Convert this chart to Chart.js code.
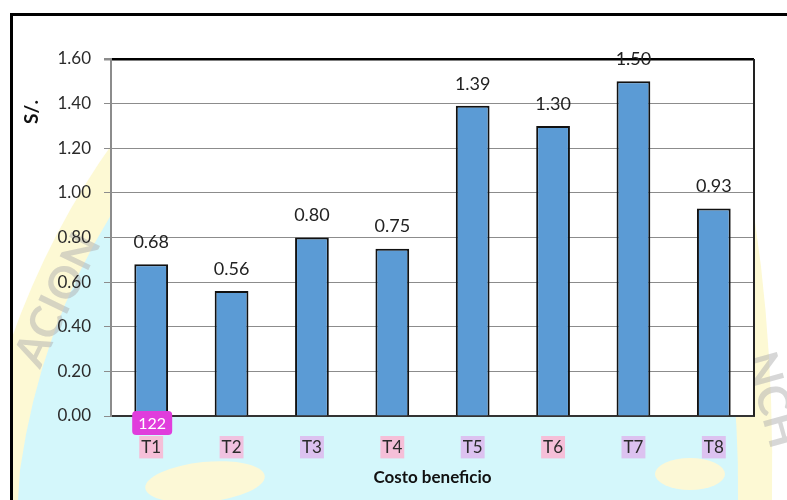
<!DOCTYPE html>
<html>
<head>
<meta charset="utf-8">
<script src="https://cdn.jsdelivr.net/npm/chart.js@4/dist/chart.umd.min.js"></script>
<style>
    body { margin: 0; background: #fff; }
    canvas { display: block; }
</style>
</head>
<body>
<canvas id="cbChart" width="787" height="500"></canvas>
<script>
// --- Data ---
const categories = ["T1", "T2", "T3", "T4", "T5", "T6", "T7", "T8"];
const costBenefit = [0.68, 0.56, 0.80, 0.75, 1.39, 1.30, 1.50, 0.93];
const yTicks = [0.00, 0.20, 0.40, 0.60, 0.80, 1.00, 1.20, 1.40, 1.60];

// highlight colours behind the category labels (style only)
const labelHighlight = ["#f5bfd8", "#f0c2e0", "#dcc2f0", "#f5bfd8", "#dcc2f0", "#f5bfd8", "#dcc2f0", "#dcc2f0"];

const FONT = "Lato, 'Open Sans', sans-serif";

// --- Background watermark + frame ---
const backdrop = {
    id: "backdrop",
    beforeDraw(chart) {
        const c = chart.ctx;
        const a = chart.chartArea;
        c.save();
        c.fillStyle = "#ffffff";
        c.fillRect(0, 0, chart.width, chart.height);

        // pale yellow ring
        c.fillStyle = "#fdf9d4";
        c.beginPath();
        c.moveTo(11, 500);
        c.lineTo(11, 340);
        c.quadraticCurveTo(50, 230, 115, 140);
        c.lineTo(740, 140);
        c.quadraticCurveTo(775, 300, 772, 500);
        c.closePath();
        c.fill();

        // light cyan inner area
        c.fillStyle = "#d4f7fb";
        c.beginPath();
        c.moveTo(18, 500);
        c.lineTo(20, 470);
        c.quadraticCurveTo(40, 330, 111, 215);
        c.lineTo(700, 215);
        c.quadraticCurveTo(740, 350, 738, 500);
        c.closePath();
        c.fill();

        // faint swirls in the lower band
        c.fillStyle = "#fcf8d6";
        c.beginPath();
        c.ellipse(205, 482, 60, 20, -0.1, 0, Math.PI * 2);
        c.fill();
        c.beginPath();
        c.ellipse(690, 474, 35, 16, 0, 0, Math.PI * 2);
        c.fill();

        // grey seal lettering
        c.fillStyle = "rgba(175,175,175,0.5)";
        c.font = "bold 44px " + FONT;
        c.textAlign = "center";
        c.textBaseline = "middle";
        c.save();
        c.translate(58, 300);
        c.rotate(-1.12);
        c.fillText("ACION", 0, 0);
        c.restore();
        c.save();
        c.translate(772, 400);
        c.rotate(1.3);
        c.fillText("NCH", 0, 0);
        c.restore();

        // plot area
        c.fillStyle = "#ffffff";
        c.fillRect(a.left, a.top, a.right - a.left, a.bottom - a.top);

        // outer frame
        c.strokeStyle = "#000000";
        c.lineWidth = 3;
        c.strokeRect(11.5, 14.5, 800, 520);
        c.restore();
    },
};

// --- Value labels, right border, badge, y title ---
const extras = {
    id: "extras",
    afterDraw(chart) {
        const c = chart.ctx;
        const a = chart.chartArea;
        c.save();

        // right border of plot
        c.strokeStyle = "#222222";
        c.lineWidth = 2;
        c.beginPath();
        c.moveTo(a.right, a.top);
        c.lineTo(a.right, a.bottom);
        c.stroke();

        // value labels
        c.fillStyle = "#222222";
        c.font = "18px " + FONT;
        c.textAlign = "center";
        c.textBaseline = "middle";
        chart.getDatasetMeta(0).data.forEach((bar, i) => {
            c.fillText(costBenefit[i].toFixed(2), bar.x, bar.y - 22);
        });

        // y title
        c.save();
        c.translate(32, 112);
        c.rotate(-Math.PI / 2);
        c.font = "bold 19px " + FONT;
        c.fillStyle = "#111111";
        c.fillText("S/.", 0, 0);
        c.restore();

        // "122" badge
        const x0 = chart.getDatasetMeta(0).data[0].x;
        c.fillStyle = "#e03ddc";
        c.beginPath();
        c.roundRect(x0 - 19, 411, 40, 24, 4);
        c.fill();
        c.fillStyle = "#ffffff";
        c.font = "16px " + FONT;
        c.fillText("122", x0 + 1, 423.5);

        c.restore();
    },
};

// --- Chart setup ---
const ctx = document.getElementById("cbChart").getContext("2d");
const cbChart = new Chart(ctx, {
    type: "bar",
    data: {
        labels: categories,
        datasets: [{
            label: "Costo beneficio",
            data: costBenefit,
            backgroundColor: "#5b9bd5",
            borderColor: "#111111",
            borderWidth: 2,
            barPercentage: 0.42,
            categoryPercentage: 1,
        }],
    },
    options: {
        responsive: false,
        animation: false,
        layout: { padding: { left: 0, top: 59, right: 33, bottom: 0 } },
        scales: {
            x: {
                grid: { display: false, drawTicks: false },
                border: { color: "#333333", width: 2 },
                ticks: {
                    color: "#2b2b2b",
                    font: { family: FONT, size: 17 },
                    padding: 21,
                    showLabelBackdrop: true,
                    backdropColor: (c) => labelHighlight[c.index],
                    backdropPadding: { top: 1, bottom: 1, left: 2, right: 2 },
                },
                title: {
                    display: true,
                    text: "Costo beneficio",
                    color: "#111111",
                    font: { family: FONT, size: 17, weight: "bold" },
                    padding: { top: 0, bottom: 12 },
                },
                afterFit: (s) => { s.height = 84; },
            },
            y: {
                min: 0,
                max: 1.6,
                afterBuildTicks: (s) => { s.ticks = yTicks.map(v => ({ value: v })); },
                grid: {
                    color: (c) => c.tick && c.tick.value >= 1.6 ? "#000000" : "#8c8c8c",
                    lineWidth: (c) => c.tick && c.tick.value >= 1.6 ? 2.5 : 1,
                    tickColor: "#8c8c8c",
                    tickLength: 7,
                },
                border: { color: "#8c8c8c", width: 2 },
                ticks: {
                    color: "#2b2b2b",
                    font: { family: FONT, size: 17 },
                    padding: 13,
                    callback: v => v.toFixed(2),
                },
                afterFit: (s) => { s.width = 111; },
            },
        },
        plugins: {
            legend: { display: false },
            tooltip: { enabled: false },
        },
    },
    plugins: [backdrop, extras],
});
</script>
</body>
</html>
